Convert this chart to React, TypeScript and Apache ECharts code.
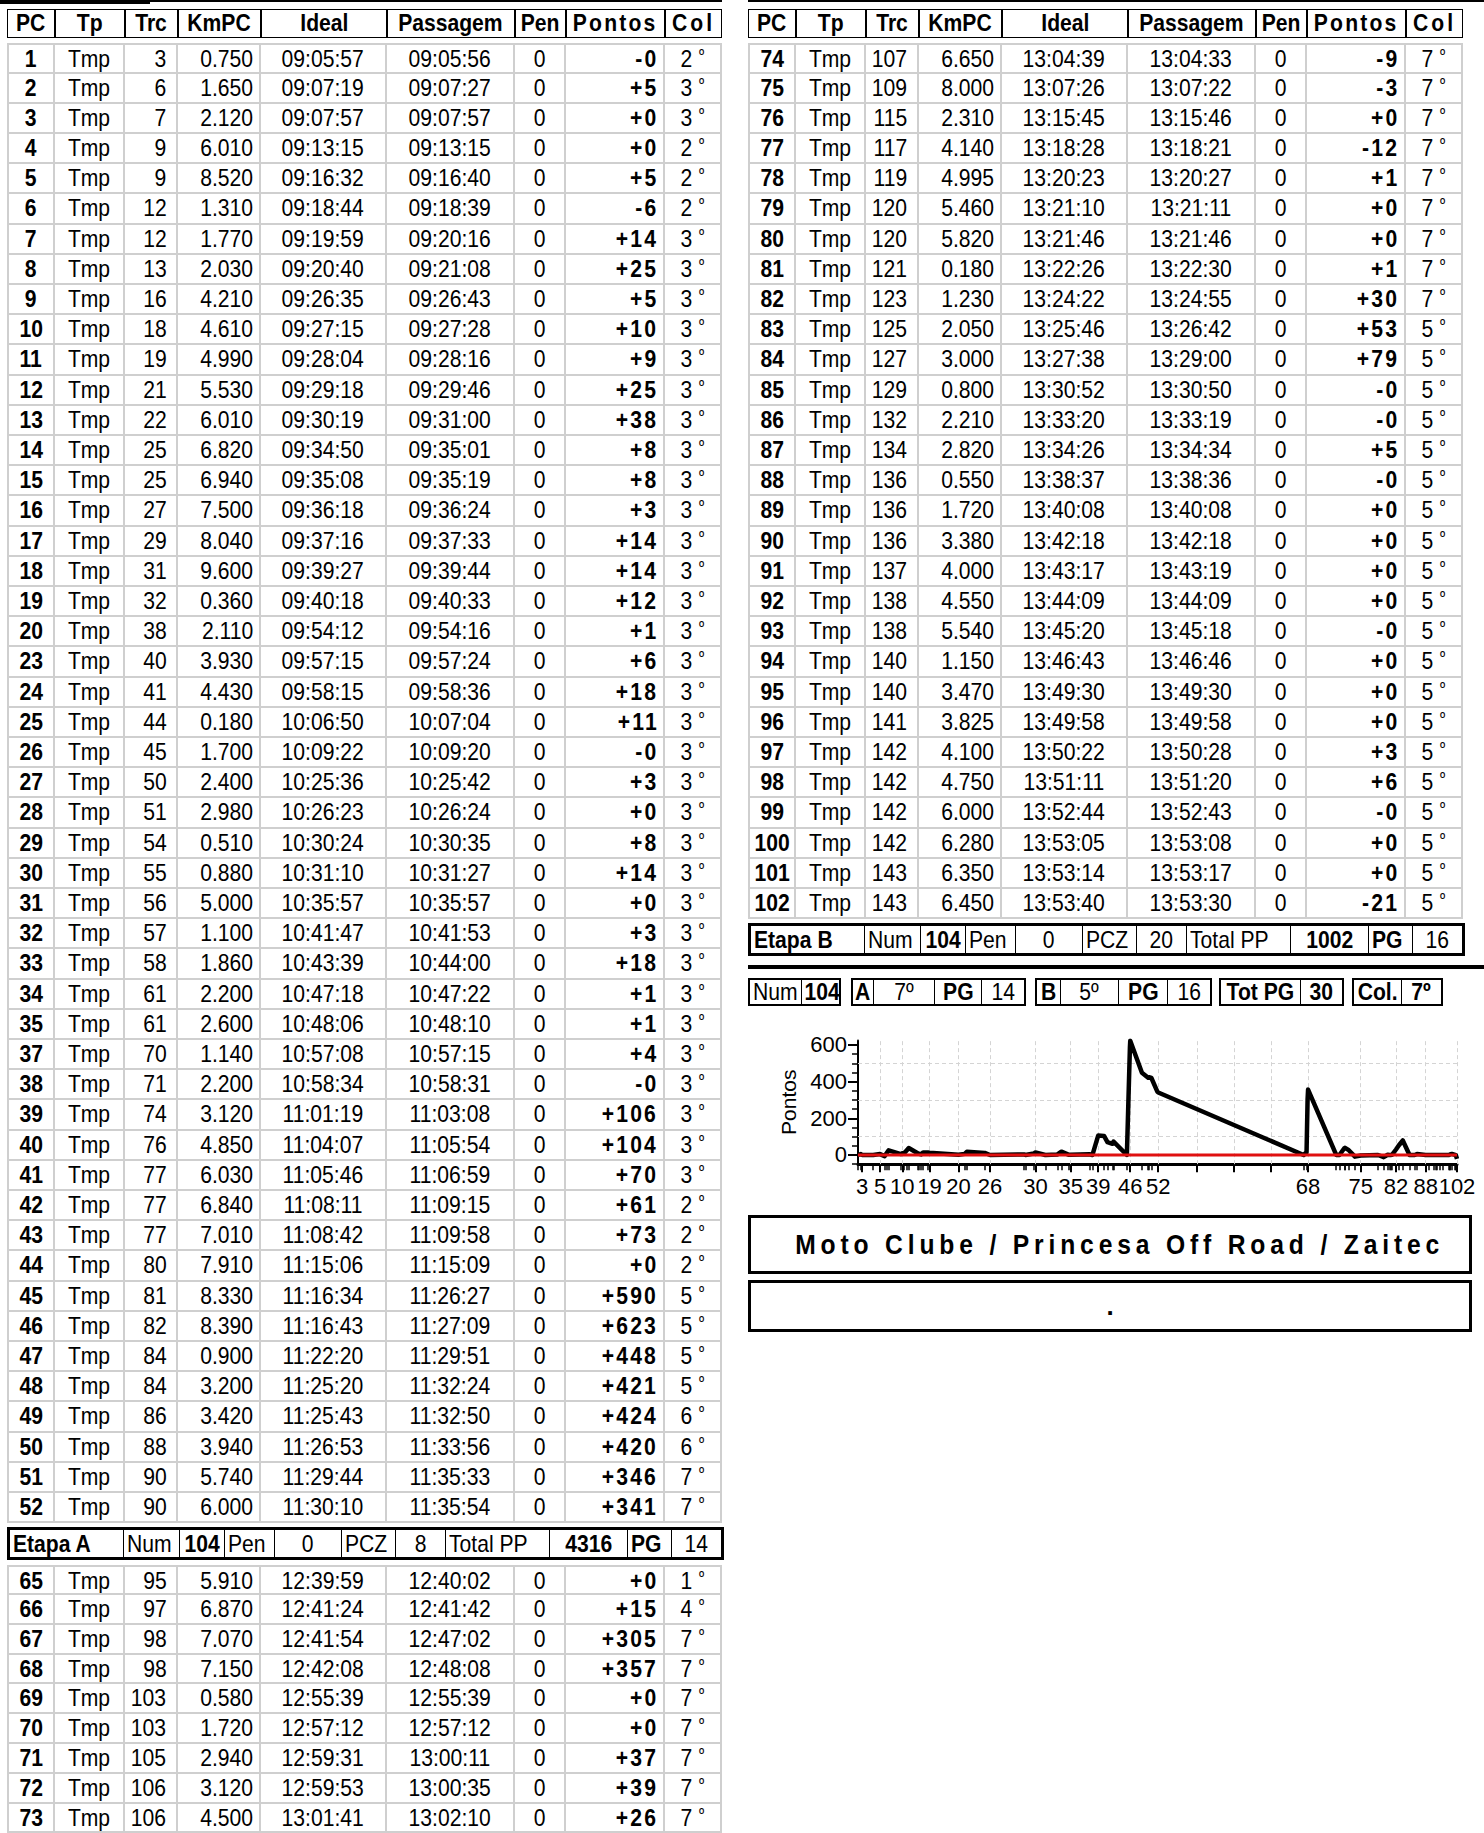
import React, { useEffect, useRef } from "react";
import * as echarts from "echarts";

// ---------------- DATA ----------------
const headerLabels = ["PC", "Tp", "Trc", "KmPC", "Ideal", "Passagem", "Pen", "Pontos", "Col"];

const pcNums = [
  1, 2, 3, 4, 5, 6, 7, 8, 9, 10, 11, 12, 13, 14, 15, 16, 17, 18, 19, 20,
  23, 24, 25, 26, 27, 28, 29, 30, 31, 32, 33, 34, 35,
  37, 38, 39, 40, 41, 42, 43, 44, 45, 46, 47, 48, 49, 50, 51, 52,
  65, 66, 67, 68, 69, 70, 71, 72, 73,
  74, 75, 76, 77, 78, 79, 80, 81, 82, 83, 84, 85, 86, 87, 88, 89, 90, 91, 92, 93, 94, 95, 96, 97, 98, 99, 100, 101, 102,
];

const tipos = pcNums.map(() => "Tmp");

const trechos = [
  3, 6, 7, 9, 9, 12, 12, 13, 16, 18, 19, 21, 22, 25, 25, 27, 29, 31, 32, 38,
  40, 41, 44, 45, 50, 51, 54, 55, 56, 57, 58, 61, 61,
  70, 71, 74, 76, 77, 77, 77, 80, 81, 82, 84, 84, 86, 88, 90, 90,
  95, 97, 98, 98, 103, 103, 105, 106, 106,
  107, 109, 115, 117, 119, 120, 120, 121, 123, 125, 127, 129, 132, 134, 136, 136, 136, 137, 138, 138, 140, 140, 141, 142, 142, 142, 142, 143, 143,
];

const kmPC = [
  "0.750", "1.650", "2.120", "6.010", "8.520", "1.310", "1.770", "2.030", "4.210", "4.610", "4.990", "5.530", "6.010", "6.820", "6.940", "7.500", "8.040", "9.600", "0.360", "2.110",
  "3.930", "4.430", "0.180", "1.700", "2.400", "2.980", "0.510", "0.880", "5.000", "1.100", "1.860", "2.200", "2.600",
  "1.140", "2.200", "3.120", "4.850", "6.030", "6.840", "7.010", "7.910", "8.330", "8.390", "0.900", "3.200", "3.420", "3.940", "5.740", "6.000",
  "5.910", "6.870", "7.070", "7.150", "0.580", "1.720", "2.940", "3.120", "4.500",
  "6.650", "8.000", "2.310", "4.140", "4.995", "5.460", "5.820", "0.180", "1.230", "2.050", "3.000", "0.800", "2.210", "2.820", "0.550", "1.720", "3.380", "4.000", "4.550", "5.540", "1.150", "3.470", "3.825", "4.100", "4.750", "6.000", "6.280", "6.350", "6.450",
];

const ideais = [
  "09:05:57", "09:07:19", "09:07:57", "09:13:15", "09:16:32", "09:18:44", "09:19:59", "09:20:40", "09:26:35", "09:27:15", "09:28:04", "09:29:18", "09:30:19", "09:34:50", "09:35:08", "09:36:18", "09:37:16", "09:39:27", "09:40:18", "09:54:12",
  "09:57:15", "09:58:15", "10:06:50", "10:09:22", "10:25:36", "10:26:23", "10:30:24", "10:31:10", "10:35:57", "10:41:47", "10:43:39", "10:47:18", "10:48:06",
  "10:57:08", "10:58:34", "11:01:19", "11:04:07", "11:05:46", "11:08:11", "11:08:42", "11:15:06", "11:16:34", "11:16:43", "11:22:20", "11:25:20", "11:25:43", "11:26:53", "11:29:44", "11:30:10",
  "12:39:59", "12:41:24", "12:41:54", "12:42:08", "12:55:39", "12:57:12", "12:59:31", "12:59:53", "13:01:41",
  "13:04:39", "13:07:26", "13:15:45", "13:18:28", "13:20:23", "13:21:10", "13:21:46", "13:22:26", "13:24:22", "13:25:46", "13:27:38", "13:30:52", "13:33:20", "13:34:26", "13:38:37", "13:40:08", "13:42:18", "13:43:17", "13:44:09", "13:45:20", "13:46:43", "13:49:30", "13:49:58", "13:50:22", "13:51:11", "13:52:44", "13:53:05", "13:53:14", "13:53:40",
];

const passagens = [
  "09:05:56", "09:07:27", "09:07:57", "09:13:15", "09:16:40", "09:18:39", "09:20:16", "09:21:08", "09:26:43", "09:27:28", "09:28:16", "09:29:46", "09:31:00", "09:35:01", "09:35:19", "09:36:24", "09:37:33", "09:39:44", "09:40:33", "09:54:16",
  "09:57:24", "09:58:36", "10:07:04", "10:09:20", "10:25:42", "10:26:24", "10:30:35", "10:31:27", "10:35:57", "10:41:53", "10:44:00", "10:47:22", "10:48:10",
  "10:57:15", "10:58:31", "11:03:08", "11:05:54", "11:06:59", "11:09:15", "11:09:58", "11:15:09", "11:26:27", "11:27:09", "11:29:51", "11:32:24", "11:32:50", "11:33:56", "11:35:33", "11:35:54",
  "12:40:02", "12:41:42", "12:47:02", "12:48:08", "12:55:39", "12:57:12", "13:00:11", "13:00:35", "13:02:10",
  "13:04:33", "13:07:22", "13:15:46", "13:18:21", "13:20:27", "13:21:11", "13:21:46", "13:22:30", "13:24:55", "13:26:42", "13:29:00", "13:30:50", "13:33:19", "13:34:34", "13:38:36", "13:40:08", "13:42:18", "13:43:19", "13:44:09", "13:45:18", "13:46:46", "13:49:30", "13:49:58", "13:50:28", "13:51:20", "13:52:43", "13:53:08", "13:53:17", "13:53:30",
];

const penas = pcNums.map(() => 0);

const pontos = [
  "-0", "+5", "+0", "+0", "+5", "-6", "+14", "+25", "+5", "+10", "+9", "+25", "+38", "+8", "+8", "+3", "+14", "+14", "+12", "+1",
  "+6", "+18", "+11", "-0", "+3", "+0", "+8", "+14", "+0", "+3", "+18", "+1", "+1",
  "+4", "-0", "+106", "+104", "+70", "+61", "+73", "+0", "+590", "+623", "+448", "+421", "+424", "+420", "+346", "+341",
  "+0", "+15", "+305", "+357", "+0", "+0", "+37", "+39", "+26",
  "-9", "-3", "+0", "-12", "+1", "+0", "+0", "+1", "+30", "+53", "+79", "-0", "-0", "+5", "-0", "+0", "+0", "+0", "+0", "-0", "+0", "+0", "+0", "+3", "+6", "-0", "+0", "+0", "-21",
];

const colocacoes = [
  2, 3, 3, 2, 2, 2, 3, 3, 3, 3, 3, 3, 3, 3, 3, 3, 3, 3, 3, 3,
  3, 3, 3, 3, 3, 3, 3, 3, 3, 3, 3, 3, 3,
  3, 3, 3, 3, 3, 2, 2, 2, 5, 5, 5, 5, 6, 6, 7, 7,
  1, 4, 7, 7, 7, 7, 7, 7, 7,
  7, 7, 7, 7, 7, 7, 7, 7, 7, 5, 5, 5, 5, 5, 5, 5, 5, 5, 5, 5, 5, 5, 5, 5, 5, 5, 5, 5, 5, 5,
];

// table sections (row index ranges)
const leftTopRows = [0, 49];
const leftBottomRows = [49, 58];
const rightRows = [58, 87];

const etapaA = ["Etapa A", "Num", "104", "Pen", "0", "PCZ", "8", "Total PP", "4316", "PG", "14"];
const etapaB = ["Etapa B", "Num", "104", "Pen", "0", "PCZ", "20", "Total PP", "1002", "PG", "16"];
const etapaBold = [true, false, true, false, false, false, false, false, true, true, false];

const resumoGeral = [["Num", "104"], ["A", "7º", "PG", "14"], ["B", "5º", "PG", "16"], ["Tot PG", "30"], ["Col.", "7º"]];
const resumoBold = [[false, true], [true, false, true, false], [true, false, true, false], [true, true], [true, true]];

const equipe = "Moto Clube / Princesa Off Road / Zaitec";
const observacao = ".";

// chart axis definitions
const axisLabelPCs = [3, 5, 10, 19, 20, 26, 30, 35, 39, 46, 52, 68, 75, 82, 88, 102];
const extraGridTimes = ["11:48:45", "12:06:30", "12:24:15"];
const yLabelValues = [0, 200, 400, 600];
const yMinorValues = [-50, 50, 100, 150, 250, 300, 350, 450, 500, 550];
const yGridValues = [100, 300, 500];
const yMin = -50;
const yMax = 625;

// ---------------- LAYOUT ----------------
const FONT = '"Liberation Sans", Arial, Helvetica, sans-serif';
const FS = 24;
const SX = 0.88;
const colW = [48, 70, 52.5, 83.5, 126, 127.5, 51.5, 98.5, 57.5];
const colAlign: any[] = ["center", "center", "right", "right", "center", "center", "center", "right", "center"];
const colPadR = [0, 0, 9, 6, 0, 0, 0, 4, 0];
const TABLE_W = colW.reduce((a, b) => a + b, 0);
const ROW_H = 30.2;
const ROW_H2 = 29.8;
const FIRST_ROW_TOP = 43.4;
const LEFT_X = 7;
const RIGHT_X = 748;
const etapaW = [117, 56, 45, 50, 67, 54, 50, 104, 78, 44, 52];
const etapaAlign: any[] = ["left", "left", "center", "left", "center", "left", "center", "left", "center", "left", "center"];
const resumoLeft = [748, 851, 1035, 1219, 1352];
const resumoW = [[54, 39], [23, 61, 47, 44], [26, 58, 49, 44], [82, 43], [50, 41]];
const GRAY = "#cfcfcf";

const toSec = (s: string) => {
  const [h, m, x] = s.split(":").map(Number);
  return h * 3600 + m * 60 + x;
};

function Txt({ children, align, sx = SX }: { children: any; align: string; sx?: number }) {
  const origin = align === "right" ? "100% 50%" : align === "left" ? "0% 50%" : "50% 50%";
  return (
    <span style={{ display: "inline-block", lineHeight: 1, transform: `scaleX(${sx})`, transformOrigin: origin, whiteSpace: "nowrap" }}>
      {children}
    </span>
  );
}

function HeaderRow({ left }: { left: number }) {
  let x = 0;
  return (
    <div style={{ position: "absolute", left, top: 9, width: TABLE_W, height: 29 }}>
      {headerLabels.map((h, k) => {
        const st: any = {
          position: "absolute", left: x, top: 0, width: colW[k], height: 29, boxSizing: "border-box",
          border: "1.5px solid #000", textAlign: "center", lineHeight: "26px", fontWeight: "bold", fontSize: FS,
          letterSpacing: k === 7 ? 2.5 : k === 8 ? 3.5 : 0, whiteSpace: "nowrap", overflow: "hidden",
        };
        x += colW[k];
        return (
          <div key={k} style={st}>
            <Txt align="center">{h}</Txt>
          </div>
        );
      })}
    </div>
  );
}

function DataRow({ i, top, left, first, h }: { i: number; top: number; left: number; first: boolean; h: number }) {
  const cells = [pcNums[i], tipos[i], trechos[i], kmPC[i], ideais[i], passagens[i], penas[i], pontos[i], colocacoes[i]];
  let x = 0;
  return (
    <div style={{ position: "absolute", left, top, width: TABLE_W, height: h }}>
      {cells.map((c, k) => {
        const st: any = {
          position: "absolute", left: x, top: 0, width: colW[k], height: h, boxSizing: "border-box",
          borderRight: `2px solid ${GRAY}`, borderBottom: `2px solid ${GRAY}`,
          borderLeft: k === 0 ? `2px solid ${GRAY}` : "none",
          borderTop: first ? `2px solid ${GRAY}` : "none",
          textAlign: colAlign[k], paddingRight: colPadR[k], lineHeight: `${h - 2}px`, fontSize: FS,
          fontWeight: k === 0 || k === 7 ? "bold" : "normal", letterSpacing: k === 7 ? 2.5 : 0,
          whiteSpace: "nowrap", overflow: "hidden",
        };
        x += colW[k];
        return (
          <div key={k} style={st}>
            <Txt align={colAlign[k]}>
              {k === 8 ? (
                <span>
                  {c}
                  <span style={{ fontSize: 16, position: "relative", top: -7, marginLeft: 3 }}> º</span>
                </span>
              ) : (
                c
              )}
            </Txt>
          </div>
        );
      })}
    </div>
  );
}

function EtapaRow({ vals, left, top }: { vals: string[]; left: number; top: number }) {
  let x = 0;
  const total = etapaW.reduce((a, b) => a + b, 0);
  return (
    <div style={{ position: "absolute", left, top, width: total, height: 33, boxSizing: "border-box", border: "3px solid #000" }}>
      {vals.map((v, k) => {
        const w = k === 0 ? etapaW[k] - 3 : k === vals.length - 1 ? etapaW[k] - 3 : etapaW[k];
        const st: any = {
          position: "absolute", left: x, top: 0, width: w, height: 27, boxSizing: "border-box",
          borderRight: k < vals.length - 1 ? "1.5px solid #000" : "none",
          textAlign: etapaAlign[k], paddingLeft: etapaAlign[k] === "left" ? 3 : 0,
          lineHeight: "27px", fontSize: FS, fontWeight: etapaBold[k] ? "bold" : "normal", whiteSpace: "nowrap",
        };
        x += w;
        return (
          <div key={k} style={st}>
            <Txt align={etapaAlign[k]}>{v}</Txt>
          </div>
        );
      })}
    </div>
  );
}

function ResumoGroup({ g }: { g: number }) {
  const ws = resumoW[g];
  const total = ws.reduce((a, b) => a + b, 0);
  let x = 0;
  return (
    <div style={{ position: "absolute", left: resumoLeft[g], top: 978, width: total, height: 28, boxSizing: "border-box", border: "2px solid #000" }}>
      {resumoGeral[g].map((v, k) => {
        const w = k === 0 || k === ws.length - 1 ? ws[k] - 2 : ws[k];
        const st: any = {
          position: "absolute", left: x, top: 0, width: w, height: 24, boxSizing: "border-box",
          borderRight: k < ws.length - 1 ? "1.5px solid #000" : "none",
          textAlign: "center", lineHeight: "24px", fontSize: FS, fontWeight: resumoBold[g][k] ? "bold" : "normal", whiteSpace: "nowrap",
        };
        x += w;
        return (
          <div key={k} style={st}>
            <Txt align="center">{v}</Txt>
          </div>
        );
      })}
    </div>
  );
}

// ---------------- CHART ----------------
function PontosChart() {
  const ref = useRef<HTMLDivElement>(null);
  useEffect(() => {
    const chart = echarts.init(ref.current as HTMLDivElement, null, { renderer: "svg" });
    const allTimes = ideais.map(toSec);
    const seriesData = allTimes.map((t, i) => [t, Number(pontos[i])]);
    const tMin = allTimes[0];
    const tMax = allTimes[allTimes.length - 1];
    const labelTimes = axisLabelPCs.map((pc) => allTimes[pcNums.indexOf(pc)]);
    const extraTimes = extraGridTimes.map(toSec);
    const gridXTimes = [...labelTimes.slice(1), ...extraTimes];
    const option: any = {
      animation: false,
      textStyle: { fontFamily: FONT },
      grid: { left: 110, right: 27, top: 15.4, height: 123.75, containLabel: false, outerBoundsMode: "none" },
      xAxis: [
        {
          type: "value", min: tMin, max: tMax, position: "bottom",
          axisLine: { show: true, onZero: false, lineStyle: { color: "#000", width: 3 } },
          axisTick: { show: true, customValues: [...labelTimes, ...extraTimes], length: 8, lineStyle: { color: "#000", width: 2 } },
          axisLabel: {
            show: true, customValues: labelTimes, color: "#000", fontSize: 22, margin: 11, fontFamily: FONT,
            formatter: (v: number) => {
              const idx = allTimes.indexOf(v);
              return idx >= 0 ? String(pcNums[idx]) : "";
            },
          },
          splitLine: { show: false },
        },
        {
          type: "value", min: tMin, max: tMax, position: "bottom",
          axisLine: { show: false, onZero: false },
          axisTick: { show: true, customValues: allTimes, length: 6, lineStyle: { color: "#000", width: 1.5 } },
          axisLabel: { show: false },
          splitLine: { show: false },
        },
      ],
      yAxis: [
        {
          type: "value", min: yMin, max: yMax, position: "left",
          name: "Pontos", nameLocation: "middle", nameRotate: 90, nameGap: 54,
          nameTextStyle: { color: "#000", fontSize: 21, fontFamily: FONT },
          axisLine: { show: true, onZero: false, lineStyle: { color: "#000", width: 2 } },
          axisTick: { show: true, customValues: yLabelValues, length: 10, lineStyle: { color: "#000", width: 2 } },
          axisLabel: { show: true, customValues: yLabelValues, color: "#000", fontSize: 22, margin: 11, fontFamily: FONT },
          splitLine: { show: false },
        },
        {
          type: "value", min: yMin, max: yMax, position: "left",
          axisLine: { show: false, onZero: false },
          axisTick: { show: true, customValues: yMinorValues, length: 6, lineStyle: { color: "#000", width: 1.5 } },
          axisLabel: { show: false },
          splitLine: { show: false },
        },
      ],
      series: [
        {
          type: "line", xAxisIndex: 0, yAxisIndex: 0, data: seriesData, symbol: "none", showSymbol: false,
          lineStyle: { color: "#000", width: 4.5, join: "round" }, z: 3, silent: true,
        },
        {
          type: "line", xAxisIndex: 0, yAxisIndex: 0, data: [[tMin, 0], [tMax, 0]], symbol: "none", showSymbol: false,
          lineStyle: { color: "#e01010", width: 3 }, z: 4, silent: true,
          markLine: {
            silent: true, z: 1, symbol: ["none", "none"], label: { show: false },
            lineStyle: { color: "#d4d4d4", width: 1, type: [4, 3] },
            data: [...gridXTimes.map((t) => ({ xAxis: t })), ...yGridValues.map((v) => ({ yAxis: v }))],
          },
        },
      ],
    };
    chart.setOption(option);
    return () => chart.dispose();
  }, []);
  return <div ref={ref} style={{ position: "absolute", left: 748, top: 1025, width: 736, height: 190 }} />;
}

// ---------------- APP ----------------
export default function App() {
  const rows: any[] = [];
  for (let i = leftTopRows[0]; i < leftTopRows[1]; i++) {
    rows.push(<DataRow key={"a" + i} i={i} h={ROW_H} left={LEFT_X} top={FIRST_ROW_TOP + (i - leftTopRows[0]) * ROW_H} first={i === leftTopRows[0]} />);
  }
  const etapaATop = FIRST_ROW_TOP + (leftTopRows[1] - leftTopRows[0]) * ROW_H + 4;
  const secondTop = etapaATop + 33 + 5;
  for (let i = leftBottomRows[0]; i < leftBottomRows[1]; i++) {
    rows.push(<DataRow key={"b" + i} i={i} h={ROW_H2} left={LEFT_X} top={secondTop + (i - leftBottomRows[0]) * ROW_H2} first={i === leftBottomRows[0]} />);
  }
  for (let i = rightRows[0]; i < rightRows[1]; i++) {
    rows.push(<DataRow key={"c" + i} i={i} h={ROW_H} left={RIGHT_X} top={FIRST_ROW_TOP + (i - rightRows[0]) * ROW_H} first={i === rightRows[0]} />);
  }
  const etapaBTop = FIRST_ROW_TOP + (rightRows[1] - rightRows[0]) * ROW_H + 4;

  return (
    <div style={{ position: "absolute", left: 0, top: 0, width: 1484, height: 1833, overflow: "hidden", background: "#fff", fontFamily: FONT, color: "#000" }}>
      {/* remnants of the page's previous boxes at the very top */}
      <div style={{ position: "absolute", left: 0, top: 0, width: 150, height: 4, background: "#000" }} />
      <div style={{ position: "absolute", left: 150, top: 0, width: 572, height: 2, background: "#000" }} />
      <div style={{ position: "absolute", left: 748, top: 0, width: 736, height: 2, background: "#000" }} />

      <HeaderRow left={LEFT_X} />
      <HeaderRow left={RIGHT_X} />
      {rows}
      <EtapaRow vals={etapaA} left={LEFT_X} top={etapaATop} />
      <EtapaRow vals={etapaB} left={RIGHT_X} top={etapaBTop} />

      <div style={{ position: "absolute", left: 748, top: 965, width: 736, height: 4, background: "#000" }} />
      {resumoGeral.map((_, g) => (
        <ResumoGroup key={g} g={g} />
      ))}

      <PontosChart />

      <div style={{ position: "absolute", left: 748, top: 1215, width: 724, height: 59, boxSizing: "border-box", border: "3px solid #000", textAlign: "center", lineHeight: "53px", fontSize: 28, fontWeight: "bold", letterSpacing: 5.5, whiteSpace: "nowrap" }}>
        <Txt align="center">{equipe}</Txt>
      </div>
      <div style={{ position: "absolute", left: 748, top: 1280, width: 724, height: 52, boxSizing: "border-box", border: "3px solid #000", textAlign: "center", lineHeight: "46px", fontSize: 26, fontWeight: "bold" }}>
        {observacao}
      </div>
    </div>
  );
}
